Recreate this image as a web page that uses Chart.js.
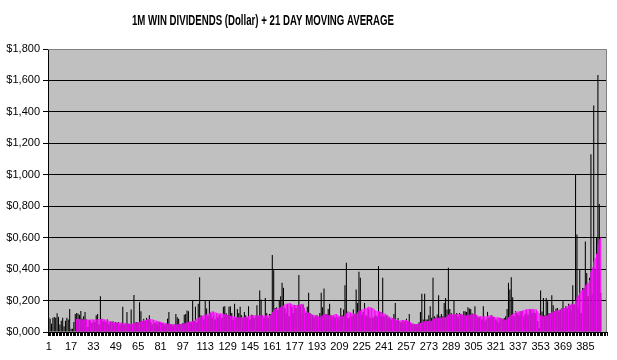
<!DOCTYPE html>
<html>
<head>
<meta charset="utf-8">
<script src="https://cdn.jsdelivr.net/npm/chart.js@4.4.1/dist/chart.umd.min.js"></script>
<style>
html,body{margin:0;padding:0;background:#fff;}
#wrap{width:617px;height:360px;position:relative;}
</style>
</head>
<body>
<div id="wrap"><canvas id="c" width="617" height="360"></canvas></div>
<script>
const TITLE = "1M WIN DIVIDENDS (Dollar) + 21 DAY MOVING AVERAGE";
const CATEGORY_COUNT = 400;
const LABEL_STEP = 16;
const Y_TICKS = [0, 0.2, 0.4, 0.6, 0.8, 1.0, 1.2, 1.4, 1.6, 1.8];

const dividends = [
0.096,0.085,0.053,0.09,0.096,0.09,0.12,0.096,0.047,0.072,
0.09,0.036,0.072,0.09,0.08,0.147,0.021,0.021,0.064,0.115,
0.121,0.117,0.11,0.134,0.085,0.1,0.128,0.079,0.032,0.074,
0.057,0.06,0.072,0.064,0.106,0.115,0.05,0.228,0.085,0.068,
0.07,0.064,0.079,0.05,0.064,0.057,0.068,0.05,0.064,0.057,
0.064,0.047,0.057,0.16,0.047,0.04,0.128,0.053,0.05,0.143,
0.047,0.236,0.06,0.064,0.06,0.19,0.132,0.068,0.085,0.07,
0.09,0.079,0.106,0.064,0.05,0.068,0.057,0.06,0.047,0.064,
0.047,0.057,0.051,0.04,0.053,0.085,0.128,0.047,0.05,0.043,
0.047,0.115,0.094,0.085,0.051,0.05,0.057,0.11,0.115,0.136,
0.132,0.064,0.06,0.2,0.07,0.16,0.06,0.179,0.349,0.106,
0.09,0.079,0.2,0.149,0.1,0.2,0.121,0.09,0.106,0.08,
0.1,0.09,0.106,0.07,0.09,0.16,0.164,0.12,0.106,0.16,
0.164,0.121,0.08,0.179,0.09,0.147,0.121,0.16,0.106,0.09,
0.128,0.106,0.09,0.164,0.08,0.11,0.106,0.09,0.08,0.17,
0.1,0.264,0.206,0.106,0.09,0.217,0.121,0.09,0.115,0.115,
0.489,0.392,0.153,0.157,0.14,0.2,0.228,0.313,0.281,0.153,
0.12,0.174,0.1,0.164,0.16,0.12,0.17,0.153,0.1,0.362,
0.17,0.12,0.174,0.106,0.121,0.16,0.249,0.121,0.08,0.106,
0.09,0.1,0.106,0.07,0.121,0.249,0.157,0.277,0.115,0.115,
0.147,0.179,0.106,0.08,0.1,0.09,0.064,0.094,0.08,0.153,
0.106,0.143,0.298,0.44,0.089,0.09,0.121,0.1,0.143,0.115,
0.27,0.185,0.383,0.345,0.11,0.128,0.185,0.106,0.1,0.143,
0.09,0.106,0.09,0.1,0.106,0.1,0.419,0.128,0.1,0.345,
0.1,0.115,0.106,0.085,0.09,0.08,0.089,0.115,0.185,0.07,
0.089,0.068,0.06,0.072,0.06,0.068,0.085,0.07,0.115,0.057,
0.05,0.026,0.051,0.047,0.05,0.062,0.128,0.243,0.079,0.243,
0.079,0.08,0.106,0.164,0.09,0.345,0.1,0.09,0.111,0.234,
0.1,0.115,0.1,0.185,0.217,0.143,0.409,0.147,0.121,0.1,
0.2,0.106,0.121,0.1,0.121,0.115,0.1,0.132,0.132,0.128,
0.157,0.149,0.147,0.12,0.1,0.164,0.106,0.09,0.094,0.094,
0.08,0.164,0.068,0.08,0.128,0.09,0.094,0.106,0.094,0.08,
0.079,0.07,0.057,0.089,0.07,0.085,0.089,0.1,0.147,0.313,
0.27,0.349,0.221,0.1,0.132,0.121,0.11,0.1,0.132,0.121,
0.1,0.115,0.132,0.11,0.128,0.143,0.12,0.132,0.121,0.106,
0.07,0.026,0.264,0.13,0.217,0.106,0.217,0.196,0.12,0.121,
0.234,0.17,0.13,0.149,0.153,0.13,0.143,0.15,0.2,0.132,
0.164,0.15,0.179,0.17,0.136,0.298,0.174,1.0,0.62,0.15,
0.4,0.121,0.28,0.28,0.575,0.375,0.228,0.345,1.13,0.238,
1.44,0.4,0.6,1.634,0.814,0.25
];

const movingAverage = [
null,null,null,null,null,null,null,null,null,null,
null,null,null,null,null,null,null,null,null,null,
0.083,0.083,0.082,0.079,0.08,0.081,0.08,0.079,0.08,0.079,
0.08,0.081,0.08,0.079,0.079,0.081,0.082,0.083,0.083,0.083,
0.08,0.079,0.075,0.072,0.07,0.068,0.064,0.062,0.06,0.06,
0.061,0.06,0.06,0.058,0.057,0.055,0.054,0.053,0.053,0.054,
0.053,0.055,0.058,0.06,0.062,0.065,0.068,0.071,0.074,0.077,
0.079,0.081,0.082,0.083,0.081,0.078,0.075,0.073,0.07,0.068,
0.065,0.062,0.06,0.057,0.055,0.053,0.052,0.051,0.049,0.049,
0.048,0.049,0.049,0.05,0.051,0.052,0.053,0.055,0.057,0.06,
0.064,0.066,0.068,0.07,0.072,0.079,0.085,0.09,0.096,0.1,
0.104,0.107,0.11,0.113,0.115,0.12,0.126,0.132,0.13,0.126,
0.123,0.121,0.12,0.118,0.117,0.116,0.115,0.112,0.109,0.106,
0.104,0.102,0.1,0.098,0.096,0.094,0.093,0.094,0.094,0.093,
0.094,0.096,0.099,0.101,0.104,0.106,0.106,0.107,0.106,0.105,
0.106,0.107,0.106,0.106,0.105,0.106,0.106,0.107,0.106,0.11,
0.128,0.143,0.146,0.15,0.153,0.155,0.157,0.163,0.17,0.175,
0.179,0.182,0.185,0.183,0.178,0.174,0.17,0.172,0.173,0.174,
0.176,0.178,0.179,0.155,0.132,0.127,0.122,0.118,0.115,0.111,
0.108,0.106,0.103,0.098,0.094,0.1,0.107,0.115,0.115,0.114,
0.106,0.107,0.106,0.106,0.11,0.114,0.115,0.108,0.1,0.1,
0.1,0.1,0.11,0.121,0.132,0.128,0.124,0.121,0.119,0.116,
0.115,0.125,0.132,0.136,0.142,0.147,0.15,0.153,0.156,0.16,
0.158,0.155,0.153,0.145,0.136,0.134,0.133,0.132,0.128,0.121,
0.118,0.115,0.108,0.1,0.097,0.093,0.089,0.086,0.083,0.078,
0.074,0.072,0.075,0.077,0.077,0.077,0.075,0.072,0.068,0.064,
0.057,0.054,0.051,0.051,0.052,0.053,0.057,0.064,0.066,0.068,
0.07,0.07,0.07,0.071,0.072,0.08,0.088,0.094,0.091,0.089,
0.091,0.093,0.094,0.094,0.094,0.1,0.11,0.119,0.115,0.111,
0.112,0.114,0.115,0.115,0.115,0.115,0.112,0.106,0.106,0.106,
0.106,0.109,0.112,0.115,0.115,0.115,0.11,0.105,0.1,0.1,
0.1,0.1,0.1,0.1,0.103,0.106,0.105,0.104,0.1,0.097,
0.094,0.094,0.094,0.09,0.087,0.085,0.08,0.077,0.083,0.094,
0.105,0.11,0.115,0.12,0.128,0.13,0.131,0.132,0.134,0.136,
0.139,0.143,0.145,0.146,0.147,0.147,0.147,0.146,0.145,0.143,
0.132,0.12,0.106,0.103,0.1,0.102,0.104,0.106,0.113,0.121,
0.125,0.128,0.132,0.135,0.138,0.14,0.143,0.147,0.15,0.153,
0.158,0.164,0.17,0.175,0.179,0.179,0.179,0.2,0.22,0.234,
0.25,0.264,0.27,0.281,0.295,0.305,0.313,0.33,0.383,0.41,
0.447,0.47,0.498,0.56,0.59,0.6
];

const categories = [];
for (let i = 1; i <= CATEGORY_COUNT; i++) categories.push(String(i));

function fmtDollar(v) {
  return '$' + Number(v).toFixed(3).replace('.', ',');
}

const plotDecor = {
  id: 'plotDecor',
  beforeDraw(chart) {
    const {ctx, chartArea: a} = chart;
    ctx.save();
    ctx.fillStyle = '#C0C0C0';
    ctx.fillRect(a.left, a.top, a.right - a.left, a.bottom - a.top);
    ctx.restore();
  },
  afterDraw(chart) {
    const {ctx, chartArea: a} = chart;
    ctx.save();
    ctx.strokeStyle = '#808080';
    ctx.lineWidth = 1;
    ctx.beginPath();
    ctx.moveTo(a.left, Math.round(a.top) + 0.5);
    ctx.lineTo(Math.round(a.right) - 0.5, Math.round(a.top) + 0.5);
    ctx.lineTo(Math.round(a.right) - 0.5, a.bottom);
    ctx.stroke();
    ctx.fillStyle = '#000';
    ctx.font = 'bold 14px "Liberation Sans", Arial, sans-serif';
    ctx.textAlign = 'center';
    ctx.textBaseline = 'middle';
    ctx.fillText(TITLE, 263, 21, 262);
    ctx.restore();
  }
};

Chart.defaults.font.family = '"Liberation Sans", Arial, sans-serif';
Chart.defaults.font.size = 11;
Chart.defaults.color = '#000';

new Chart(document.getElementById('c'), {
  type: 'bar',
  data: {
    labels: categories,
    datasets: [
      { label: '21 Day MA', data: movingAverage, backgroundColor: '#FF00FF', borderWidth: 0,
        grouped: false, barPercentage: 0.8, categoryPercentage: 1, order: 0 },
      { label: 'Dividend', data: dividends, backgroundColor: '#000000', borderWidth: 0,
        grouped: false, barPercentage: 0.75, categoryPercentage: 1, order: 1 }
    ]
  },
  options: {
    responsive: false,
    animation: false,
    devicePixelRatio: 1,
    layout: { padding: { top: 49, right: 10, left: 0, bottom: 0 } },
    plugins: { legend: { display: false }, tooltip: { enabled: false }, title: { display: false } },
    scales: {
      x: {
        grid: { display: true, drawOnChartArea: false, drawTicks: true, tickLength: 4,
                color: '#000', lineWidth: 1, offset: true },
        border: { display: true, color: '#000', width: 1 },
        ticks: {
          autoSkip: false, maxRotation: 0, minRotation: 0, padding: 4,
          callback: function(v, i) { return (i % LABEL_STEP === 0) ? categories[i] : ''; }
        },
        afterFit(s) { s.height = 28; }
      },
      y: {
        min: 0, max: 1.8,
        afterBuildTicks(s) { s.ticks = Y_TICKS.map(v => ({ value: v })); },
        grid: {
          color: (c) => (c.tick && Math.abs(c.tick.value - 1.8) < 1e-9) ? 'rgba(0,0,0,0)' : '#000',
          tickColor: '#000', lineWidth: 1, drawTicks: true, tickLength: 5
        },
        border: { display: true, color: '#000', width: 1 },
        ticks: { padding: 3, callback: (v) => fmtDollar(v) },
        afterFit(s) { s.width = 48; }
      }
    }
  },
  plugins: [plotDecor]
});
</script>
</body>
</html>
